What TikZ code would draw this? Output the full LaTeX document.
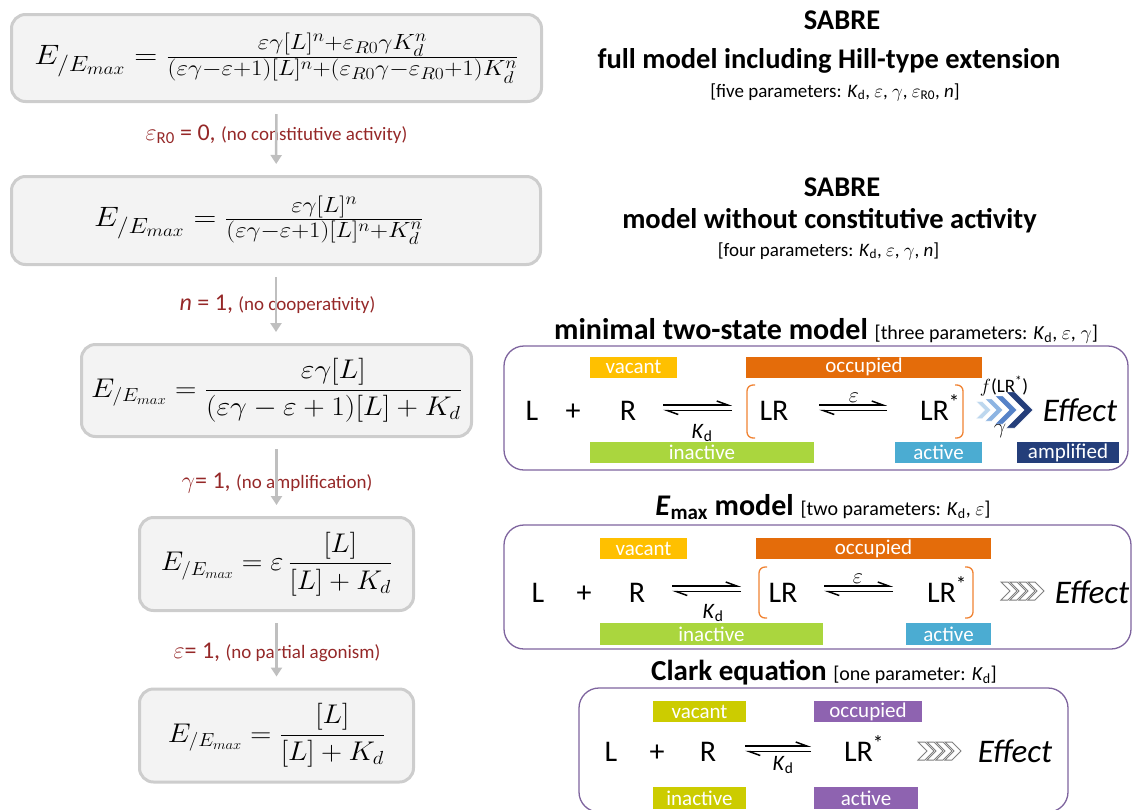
\documentclass[tikz,border=0pt]{standalone}
\usepackage{fix-cm}
\usepackage{fontspec}
\setmainfont{Carlito}
\usepackage{amsmath}
\usetikzlibrary{arrows.meta}
\DeclareMathSizes{28}{28}{22}{17}

\definecolor{condred}{RGB}{149,40,40}
\definecolor{arrowgray}{RGB}{191,191,191}
\definecolor{boxfill}{RGB}{243,243,243}
\definecolor{boxedge}{RGB}{205,205,205}
\definecolor{framepurple}{RGB}{126,100,158}
\definecolor{vacantyellow}{RGB}{255,192,0}
\definecolor{occorange}{RGB}{228,108,10}
\definecolor{inactgreen}{RGB}{170,214,62}
\definecolor{actblue}{RGB}{75,172,210}
\definecolor{ampnavy}{RGB}{36,62,122}
\definecolor{bracketorange}{RGB}{240,130,50}
\definecolor{clarkolive}{RGB}{204,204,0}
\definecolor{clarkpurple}{RGB}{142,99,176}
\definecolor{chevA}{RGB}{189,215,238}
\definecolor{chevB}{RGB}{141,180,226}
\definecolor{chevC}{RGB}{85,130,200}
\definecolor{chevD}{RGB}{36,62,122}

\newcommand{\fs}[1]{\fontsize{#1}{#1}\selectfont}
\newcommand{\Kd}{\textit{K}\textsubscript{d}}
% chevron: style, x, y (middle), width, height
\newcommand{\chevron}[5]{%
  \path[#1] ({#2},{#3-#5/2}) -- ({#2+#4-#5/2},{#3-#5/2}) -- ({#2+#4},{#3})
    -- ({#2+#4-#5/2},{#3+#5/2}) -- ({#2},{#3+#5/2}) -- ({#2+#5/2},{#3}) -- cycle;}

\tikzset{
  eqbox/.style={draw=boxedge, line width=3pt, fill=boxfill, rounded corners=14pt, inner sep=0pt},
  condlabel/.style={text=condred, anchor=base, inner sep=0pt},
  reduce/.style={draw=arrowgray, line width=2.5pt, -{Triangle[length=9pt,width=11pt]},
    shorten <=11pt, shorten >=11pt},
  modelframe/.style={draw=framepurple, line width=1.3pt, rounded corners=20pt},
  statetag/.style={fill=#1, text=white, inner sep=0pt, font=\fs{21}},
  species/.style={font=\fs{30}, anchor=base, inner sep=0pt},
  effect/.style={font=\fs{33}\itshape, anchor=base, inner sep=0pt},
  harpoon/.style={line width=1.5pt, -{Straight Barb[left,length=11pt,width=8pt]}},
  bracket/.style={draw=bracketorange, line width=1.3pt, rounded corners=6pt},
  title/.style={font=\fs{28.5}\bfseries, anchor=base, inner sep=0pt},
  params/.style={font=\fs{19}, anchor=base, inner sep=0pt},
  small/.style={anchor=base, inner sep=0pt, font=\fs{22}},
  outlinechev/.style={draw=gray, fill=white, line width=1pt},
}

\begin{document}
\begin{tikzpicture}[x=1pt, y=-1pt]
\useasboundingbox (0,0) rectangle (1134,809);

%% equation boxes
\node[eqbox, minimum width=530pt, minimum height=87pt] (full) at (276.5,58)
  {\scalebox{1.14}[1]{\fs{28}$E_{/E_{max}} = \frac{\varepsilon\gamma[L]^n+\varepsilon_{R0}\gamma K_d^n}{(\varepsilon\gamma-\varepsilon+1)[L]^n+(\varepsilon_{R0}\gamma-\varepsilon_{R0}+1)K_d^n}$}};
\node[eqbox, minimum width=529pt, minimum height=88pt] (noconst) at (276,220.5)
  {\scalebox{1.13}[1]{\fs{28}$E_{/E_{max}} = \frac{\varepsilon\gamma[L]^n}{(\varepsilon\gamma-\varepsilon+1)[L]^n+K_d^n}$}\hspace*{34pt}};
\node[eqbox, minimum width=390pt, minimum height=92pt] (nocoop) at (276.5,390.5)
  {\scalebox{1.1}[1]{\fs{27}$\displaystyle E_{/E_{max}} = \frac{\varepsilon\gamma[L]}{(\varepsilon\gamma-\varepsilon+1)[L]+K_d}$}};
\node[eqbox, minimum width=274pt, minimum height=93pt] (noamp) at (276.5,564)
  {\scalebox{1.06}[1]{\fs{27}$\displaystyle E_{/E_{max}} = \varepsilon\,\frac{[L]}{[L]+K_d}$}};
\node[eqbox, minimum width=274pt, minimum height=93pt] (clarkeq) at (276.5,735.5)
  {\scalebox{1.08}[1]{\fs{27}$\displaystyle E_{/E_{max}} = \frac{[L]}{[L]+K_d}$}};

%% conditions
\node[condlabel] (c1) at (276.5,140) {\fs{24}$\varepsilon$\textsubscript{R0} = 0, {\fs{19}(no constitutive activity)}};
\node[condlabel] (c2) at (277.5,310) {\fs{24}\textit{n} = 1, {\fs{19}(no cooperativity)}};
\node[condlabel] (c3) at (277,488) {\fs{24}$\gamma$= 1, {\fs{19}(no amplification)}};
\node[condlabel] (c4) at (277,658) {\fs{24}$\varepsilon$= 1, {\fs{19}(no partial agonism)}};

\draw[reduce] (full) -- (noconst);
\draw[reduce] (noconst) -- (noconst |- nocoop.north);
\draw[reduce] (nocoop.south -| noamp) -- (noamp);
\draw[reduce] (noamp) -- (clarkeq);

%% SABRE titles
\node[title] (t1a) at (842,29) {SABRE};
\node[title] (t1b) at (829,68) {full model including Hill-type extension};
\node[params] (t1c) at (835,97) {[five parameters: \Kd, $\varepsilon$, $\gamma$, $\varepsilon$\textsubscript{R0}, \textit{n}]};
\node[title] (t2a) at (842,196) {SABRE};
\node[title] (t2b) at (829.5,228) {model without constitutive activity};
\node[params] (t2c) at (828.5,256) {[four parameters: \Kd, $\varepsilon$, $\gamma$, \textit{n}]};

%% minimal two-state model
\node[anchor=base, inner sep=0pt] (tstitle) at (826,339)
  {\fs{30}\bfseries minimal two-state model {\fs{20}\mdseries [three parameters: \Kd, $\varepsilon$, $\gamma$]}};
\draw[modelframe] (504,346) rectangle (1128,470);
\node[statetag=vacantyellow, minimum width=87pt, minimum height=21pt] (ts-vac) at (633.5,367) {vacant};
\node[statetag=occorange, minimum width=236pt, minimum height=21pt] (ts-occ) at (864,367) {occupied};
\node[statetag=inactgreen, minimum width=224pt, minimum height=21pt] (ts-inact) at (702,452.5) {inactive};
\node[statetag=actblue, minimum width=87pt, minimum height=21pt] (ts-act) at (938.5,452.5) {active};
\node[statetag=ampnavy, minimum width=102pt, minimum height=21pt] (ts-amp) at (1068,452.5) {amplified};
\node[species] (ts-L) at (532,420) {L};
\node[species] (ts-plus) at (573,420) {+};
\node[species] (ts-R) at (628,420) {R};
\node[species] (ts-LR) at (774,420) {LR};
\node[species] (ts-LRs) at (940,420) {LR\textsuperscript{*}};
\node[effect] (ts-eff) at (1080,421) {Effect};
\node[small] (ts-kd) at (702,438) {\Kd};
\node[small] (ts-eps) at (854,402) {$\varepsilon$};
\node[small, font=\fs{19}] (ts-f) at (1004,392) {$f$(LR\textsuperscript{*})};
\node[small] (ts-g) at (1000,433) {$\gamma$};
\draw[harpoon] (663,405) -- (732,405);
\draw[harpoon] (732,410.5) -- (663,410.5);
\draw[harpoon] (819,405) -- (887,405);
\draw[harpoon] (887,410.5) -- (819,410.5);
\draw[bracket] (755,385) -- (747,385) -- (747,438) -- (755,438);
\draw[bracket] (955,385) -- (963,385) -- (963,438) -- (955,438);
\chevron{fill=chevA,draw=white}{976}{410}{15}{17}
\chevron{fill=chevB,draw=white}{985}{410}{18}{22}
\chevron{fill=chevC,draw=white}{995}{410}{22}{28}
\chevron{fill=chevD,draw=white}{1006}{410}{27}{36}

%% Emax model
\node[anchor=base, inner sep=0pt] (emtitle) at (823,515)
  {\fs{30}\bfseries\textit{E}\textsubscript{max} model {\fs{20}\mdseries [two parameters: \Kd, $\varepsilon$]}};
\draw[modelframe] (504,525) rectangle (1131,649);
\node[statetag=vacantyellow, minimum width=87pt, minimum height=21pt] (em-vac) at (643.5,548.5) {vacant};
\node[statetag=occorange, minimum width=235pt, minimum height=21pt] (em-occ) at (873.5,548.5) {occupied};
\node[statetag=inactgreen, minimum width=223pt, minimum height=22pt] (em-inact) at (711.5,634) {inactive};
\node[statetag=actblue, minimum width=85pt, minimum height=22pt] (em-act) at (948.5,634) {active};
\node[species] (em-L) at (538,602) {L};
\node[species] (em-plus) at (584,602) {+};
\node[species] (em-R) at (637,602) {R};
\node[species] (em-LR) at (783,602) {LR};
\node[species] (em-LRs) at (947,602) {LR\textsuperscript{*}};
\node[effect] (em-eff) at (1092,603) {Effect};
\node[small] (em-kd) at (713,618) {\Kd};
\node[small] (em-eps) at (858,583) {$\varepsilon$};
\draw[harpoon] (672,586) -- (741,586);
\draw[harpoon] (741,591.5) -- (672,591.5);
\draw[harpoon] (824,586) -- (893,586);
\draw[harpoon] (893,591.5) -- (824,591.5);
\draw[bracket] (767,567) -- (759,567) -- (759,618) -- (767,618);
\draw[bracket] (965,567) -- (973,567) -- (973,618) -- (965,618);
\foreach \i in {0,...,3}
  {\chevron{outlinechev}{1001+9*\i}{591}{16}{18}}

%% Clark equation
\node[anchor=base, inner sep=0pt] (cltitle) at (824,680)
  {\fs{29}\bfseries Clark equation {\fs{20}\mdseries [one parameter: \Kd]}};
\draw[modelframe] (579,688) rectangle (1068,812);
\node[statetag=clarkolive, minimum width=93pt, minimum height=21pt] (cl-vac) at (699.5,711.5) {vacant};
\node[statetag=clarkpurple, minimum width=108pt, minimum height=21pt] (cl-occ) at (868,711.5) {occupied};
\node[statetag=clarkolive, minimum width=93pt, minimum height=22pt] (cl-inact) at (699.5,798) {inactive};
\node[statetag=clarkpurple, minimum width=104pt, minimum height=22pt] (cl-act) at (866,798) {active};
\node[species] (cl-L) at (611,761) {L};
\node[species] (cl-plus) at (657,761) {+};
\node[species] (cl-R) at (708,761) {R};
\node[species] (cl-LRs) at (864,761) {LR\textsuperscript{*}};
\node[effect] (cl-eff) at (1015,762) {Effect};
\node[small] (cl-kd) at (783,770) {\Kd};
\draw[harpoon] (745,746) -- (811,746);
\draw[harpoon] (811,751.5) -- (745,751.5);
\foreach \i in {0,...,3}
  {\chevron{outlinechev}{918+9*\i}{751}{16}{18}}
\end{tikzpicture}
\end{document}
